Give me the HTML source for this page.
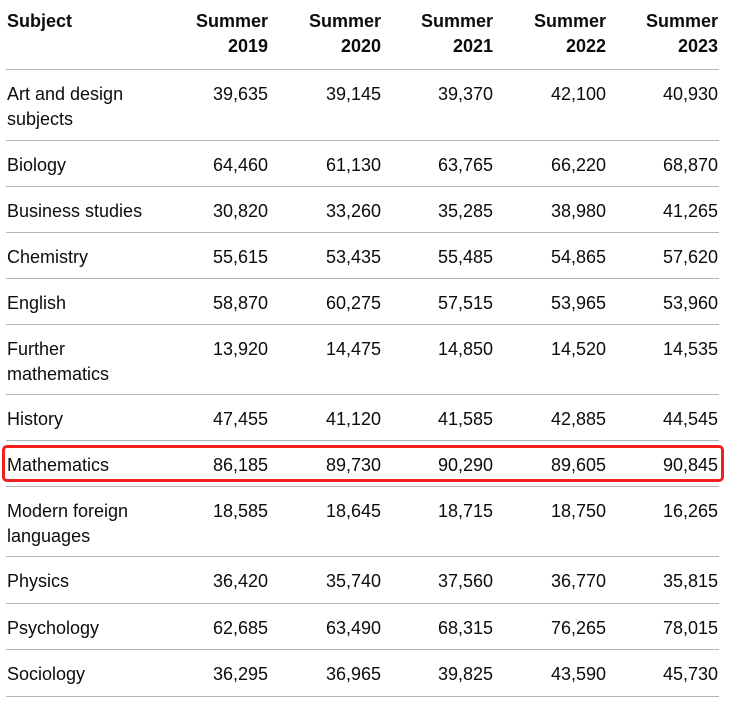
<!DOCTYPE html><html><head><style>
body{margin:0;width:731px;height:705px;background:#fff;font-family:"Liberation Sans",sans-serif;color:#0b0c0c;font-size:18px;position:relative;overflow:hidden}
.r{position:absolute;left:6px;width:713px;border-bottom:1px solid #b1b4b6}
.c{position:absolute;line-height:25px;white-space:nowrap}
.n{text-align:right;width:110px}
.h{font-weight:bold}
</style></head><body>
<div id="t"></div>
<div style="position:absolute;left:2px;top:445px;width:716px;height:31px;border:3px solid #f0201d;border-radius:5px"></div>
<script>
var rows=[["Subject","Summer<br>2019","Summer<br>2020","Summer<br>2021","Summer<br>2022","Summer<br>2023",0,69],
["Art and design<br>subjects","39,635","39,145","39,370","42,100","40,930",69,140],
["Biology","64,460","61,130","63,765","66,220","68,870",140,186],
["Business studies","30,820","33,260","35,285","38,980","41,265",186,232],
["Chemistry","55,615","53,435","55,485","54,865","57,620",232,278],
["English","58,870","60,275","57,515","53,965","53,960",278,324],
["Further<br>mathematics","13,920","14,475","14,850","14,520","14,535",324,394],
["History","47,455","41,120","41,585","42,885","44,545",394,440],
["Mathematics","86,185","89,730","90,290","89,605","90,845",440,486],
["Modern foreign<br>languages","18,585","18,645","18,715","18,750","16,265",486,556],
["Physics","36,420","35,740","37,560","36,770","35,815",556,603],
["Psychology","62,685","63,490","68,315","76,265","78,015",603,649],
["Sociology","36,295","36,965","39,825","43,590","45,730",649,696]];
var R=[268,381,493,606,718],h="";
rows.forEach(function(r,i){
 var top=i==0?9:r[6]+13,cl=i==0?" h":"";
 h+='<div class="r" style="top:'+r[6]+'px;height:'+(r[7]-r[6])+'px"></div>';
 h+='<div class="c'+cl+'" style="left:7px;top:'+top+'px">'+r[0]+'</div>';
 for(var k=0;k<5;k++)h+='<div class="c n'+cl+'" style="left:'+(R[k]-110)+'px;top:'+top+'px">'+r[k+1]+'</div>';
});
document.getElementById("t").innerHTML=h;
</script>
</body></html>
